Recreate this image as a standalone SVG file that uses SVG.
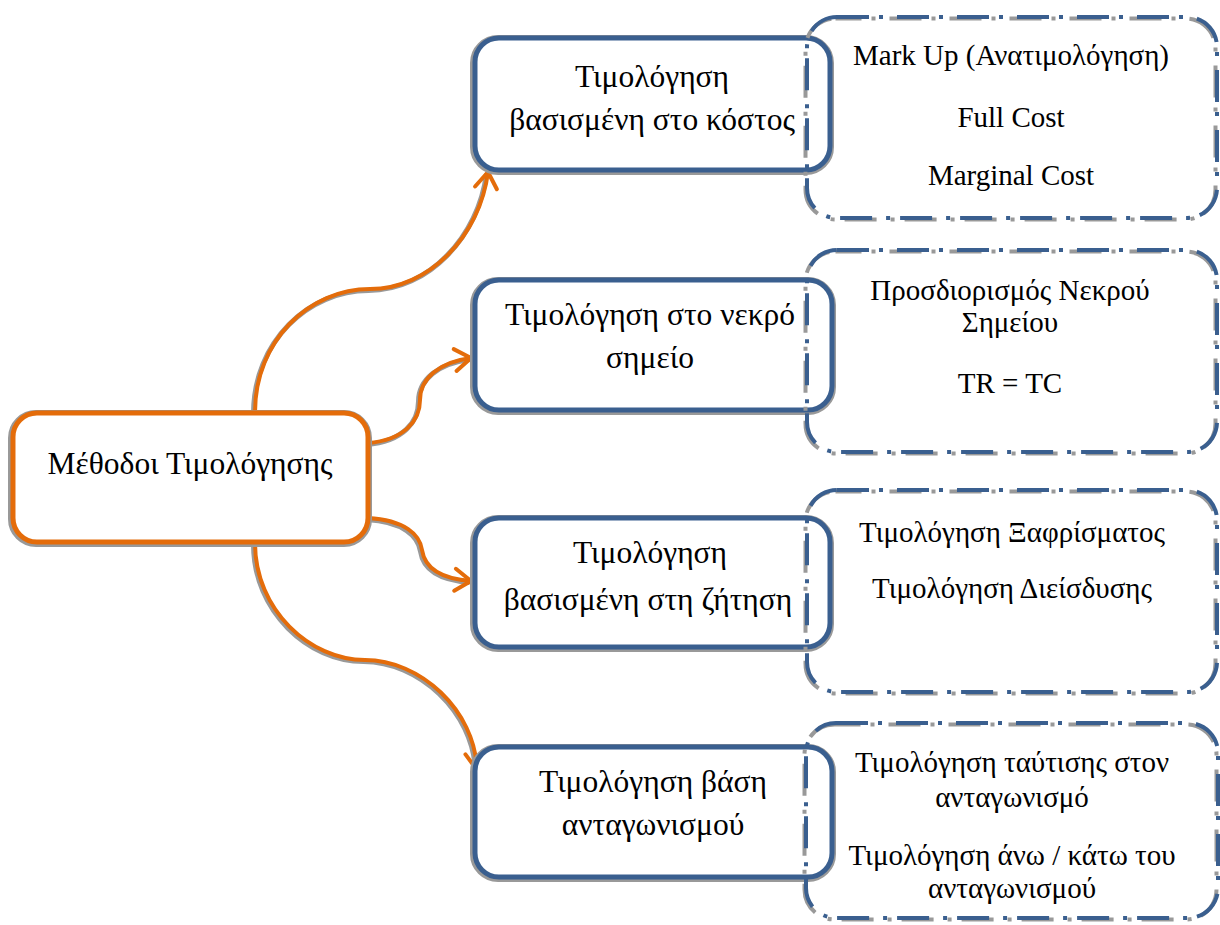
<svg xmlns="http://www.w3.org/2000/svg" width="1220" height="925" viewBox="0 0 1220 925">
<style>
text{font-family:"Liberation Serif","DejaVu Serif",serif;font-size:29px;fill:#000;text-anchor:middle}
.big{font-size:31.5px}
.sh{fill:none;stroke:#999;stroke-width:8}
.box{fill:#fff;stroke:#3a5f8f;stroke-width:5}
.root{fill:#fff;stroke:#e46c0a;stroke-width:5}
.dsh{fill:none;stroke:#999;stroke-width:4;stroke-dasharray:32 10 4 14}
.dbox{fill:none;stroke:#3a5f8f;stroke-width:4;stroke-dasharray:32 10 4 14}
.csh{fill:none;stroke:#999;stroke-width:5}
.con{fill:none;stroke:#e46c0a;stroke-width:4;marker-end:url(#arr)}
</style>
<defs>
<marker id="arr" markerUnits="userSpaceOnUse" markerWidth="30" markerHeight="30" refX="0" refY="0" orient="auto" overflow="visible" viewBox="-20 -15 30 30">
<path d="M-16,-11 L0,0 L-16,11" fill="none" stroke="#e46c0a" stroke-width="4" stroke-linecap="round" stroke-linejoin="round"/>
</marker>
</defs>
<rect width="1220" height="925" fill="#fff"/>
<g id="connectors">
<g transform="translate(-1.5,1.5)">
<path class="csh" d="M255,412 C255,340 310,289 370,289 C430,289 480,235 488,172"/>
<path class="csh" d="M368,443 C405,440 420,420 420,400 C420,378 440,362 471,358"/>
<path class="csh" d="M368,518 C405,520 420,535 422,550 C425,570 445,579 471,581"/>
<path class="csh" d="M255,543 C255,610 310,660 365,660 C420,660 475,710 477,770"/>
</g>
<path class="con" d="M255,412 C255,340 310,289 370,289 C430,289 480,235 488,172"/>
<path class="con" d="M368,443 C405,440 420,420 420,400 C420,378 440,362 471,358"/>
<path class="con" d="M368,518 C405,520 420,535 422,550 C425,570 445,579 471,581"/>
<path class="con" d="M255,543 C255,610 310,660 365,660 C420,660 475,710 477,770"/>
</g>
<g id="root">
<rect class="sh" x="12" y="414" width="356" height="129" rx="24"/>
<rect class="root" x="13" y="413" width="355" height="129" rx="24"/>
<text class="big" x="190" y="474">Μέθοδοι Τιμολόγησης</text>
</g>
<g id="cost">
<rect class="sh" x="474" y="39" width="356" height="132" rx="24"/>
<rect class="box" x="475" y="38" width="355" height="132" rx="24"/>
<text class="big" x="652" y="87">Τιμολόγηση</text>
<text class="big" x="652" y="130">βασισμένη στο κόστος</text>
</g>
<g id="breakeven">
<rect class="sh" x="474" y="281" width="358" height="130" rx="24"/>
<rect class="box" x="475" y="280" width="357" height="130" rx="24"/>
<text class="big" x="650" y="325">Τιμολόγηση στο νεκρό</text>
<text class="big" x="650" y="368">σημείο</text>
</g>
<g id="demand">
<rect class="sh" x="474" y="519" width="356" height="129" rx="24"/>
<rect class="box" x="475" y="518" width="355" height="129" rx="24"/>
<text class="big" x="650" y="563">Τιμολόγηση</text>
<text class="big" x="648" y="610">βασισμένη στη ζήτηση</text>
</g>
<g id="competition">
<rect class="sh" x="474" y="748" width="358" height="130" rx="24"/>
<rect class="box" x="475" y="747" width="357" height="130" rx="24"/>
<text class="big" x="653" y="792">Τιμολόγηση βάση</text>
<text class="big" x="653" y="835">ανταγωνισμού</text>
</g>
<g id="cost-detail">
<rect class="dsh" x="805.5" y="18.5" width="410" height="201" rx="30" stroke-dashoffset="6"/>
<rect class="dbox" x="807" y="17" width="410" height="201" rx="30"/>
<text x="1011" y="65">Mark Up (Ανατιμολόγηση)</text>
<text x="1011" y="127">Full Cost</text>
<text x="1011" y="185">Marginal Cost</text>
</g>
<g id="breakeven-detail">
<rect class="dsh" x="805.5" y="251.5" width="410" height="202" rx="30" stroke-dashoffset="6"/>
<rect class="dbox" x="807" y="250" width="410" height="202" rx="30"/>
<text x="1010" y="300">Προσδιορισμός Νεκρού</text>
<text x="1010" y="332">Σημείου</text>
<text x="1010" y="393">TR = TC</text>
</g>
<g id="demand-detail">
<rect class="dsh" x="805.5" y="491.5" width="410" height="202" rx="30" stroke-dashoffset="6"/>
<rect class="dbox" x="807" y="490" width="410" height="202" rx="30"/>
<text x="1012" y="542">Τιμολόγηση Ξαφρίσματος</text>
<text x="1012" y="598">Τιμολόγηση Διείσδυσης</text>
</g>
<g id="competition-detail">
<rect class="dsh" x="804.5" y="724.5" width="412" height="195" rx="30" stroke-dashoffset="6"/>
<rect class="dbox" x="806" y="723" width="412" height="195" rx="30"/>
<text x="1012" y="772">Τιμολόγηση ταύτισης στον</text>
<text x="1012" y="807">ανταγωνισμό</text>
<text x="1012" y="865">Τιμολόγηση άνω / κάτω του</text>
<text x="1012" y="898">ανταγωνισμού</text>
</g>
</svg>
